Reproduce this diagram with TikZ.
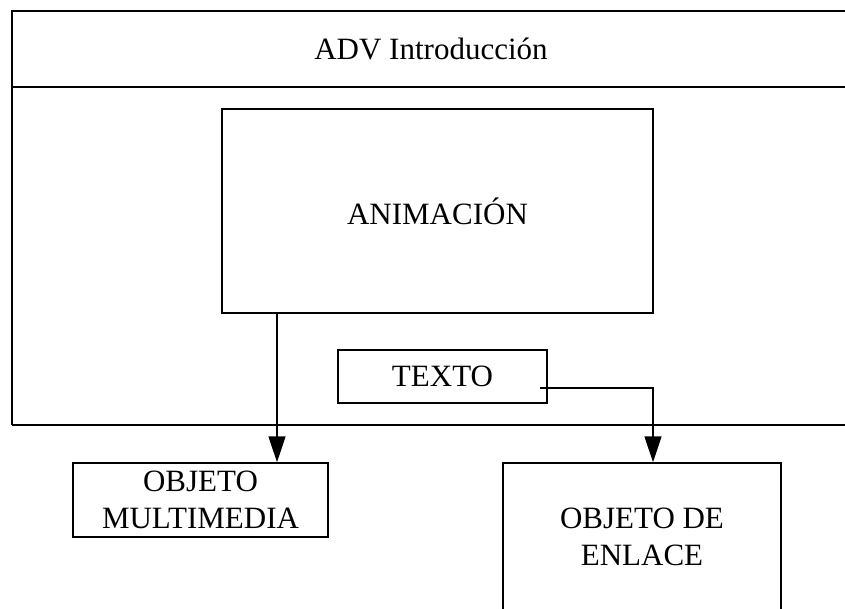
\documentclass[tikz,border=0pt]{standalone}
\usepackage{fontspec}
\setmainfont{Liberation Serif}
\usetikzlibrary{arrows.meta,calc}
\begin{document}
\begin{tikzpicture}[x=1pt,y=-1pt,
  box/.style={draw=black,line width=1.5pt,rectangle,inner sep=0pt,align=center,
    font=\fontsize{31}{37}\selectfont},
  lbl/.style={inner sep=0pt,align=center,font=\fontsize{31}{37}\selectfont},
  arr/.style={draw=black,line width=1.5pt,-{Triangle[length=26pt,width=17pt]}}]
\useasboundingbox (0,0) rectangle (845,608);
\clip (0,0) rectangle (845,608);
% outer frame
\draw[line width=1.5pt] (12,425) -- (12,11) -- (880,11);
\draw[line width=1.5pt] (12,425) -- (880,425);
\draw[line width=1.5pt] (12,87) -- (880,87);
\node[lbl] (title) at (431,49) {ADV Introducción};
% boxes
\node[box,minimum width=431pt,minimum height=204pt] (anim) at (437.5,211) {ANIMACIÓN};
\node[box,minimum width=209pt,minimum height=53pt] (texto) at (442.5,376.5) {TEXTO};
\node[box,minimum width=255pt,minimum height=74pt] (multi) at (200.5,500) {OBJETO\\MULTIMEDIA};
\node[box,minimum width=278pt,minimum height=148pt] (enlace) at (642,537) {OBJETO DE\\ENLACE};
% connectors
\coordinate (a1) at (277,313);
\draw[arr] (a1) -- (a1 |- multi.north);
\coordinate (t1) at (540,388);
\coordinate (e1) at (653,463);
\draw[arr] (t1) -- (t1 -| e1) -- (e1 |- enlace.north);
\end{tikzpicture}
\end{document}
